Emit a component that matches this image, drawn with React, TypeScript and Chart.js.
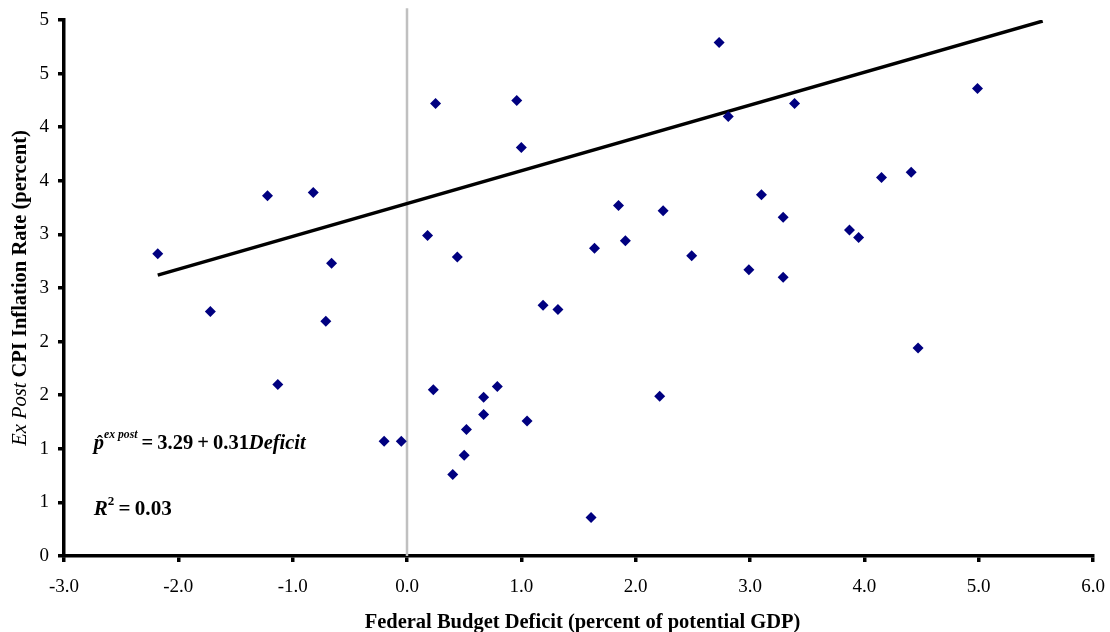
import React, { useEffect, useRef } from 'react';
import { Chart, registerables } from 'chart.js';

Chart.register(...registerables);

// Federal budget deficit (percent of potential GDP)
const deficit = [
  -2.18, -1.72, -1.22, -1.13, -0.82, -0.66, -0.71, -0.2, -0.05,
  0.18, 0.25, 0.23, 0.44, 0.4, 0.5, 0.52, 0.67, 0.67, 0.79, 0.96, 1.0, 1.05,
  1.19, 1.32, 1.61, 1.64, 1.85, 1.91, 2.21, 2.24, 2.49, 2.73, 2.81, 2.99,
  3.1, 3.29, 3.29, 3.39, 3.87, 3.95, 4.15, 4.41, 4.47, 4.99,
];
// Ex post CPI inflation rate (percent)
const inflation = [
  2.82, 2.28, 3.36, 1.6, 3.39, 2.73, 2.19, 1.07, 1.07,
  2.99, 4.22, 1.55, 2.79, 0.76, 0.94, 1.18, 1.48, 1.32, 1.58, 4.25, 3.81, 1.26,
  2.34, 2.3, 0.36, 2.87, 3.27, 2.94, 1.49, 3.22, 2.8, 4.79, 4.1, 2.67,
  3.37, 3.16, 2.6, 4.22, 3.04, 2.97, 3.53, 3.58, 1.94, 4.36,
];
// Fitted regression line end points
const fitX = [-2.18, 5.56];
const fitY = [2.62, 4.99];
// Zero-deficit reference line
const zeroX = [0, 0];
const zeroY = [0, 5.11];

const xTickLabels = ['-3.0', '-2.0', '-1.0', '0.0', '1.0', '2.0', '3.0', '4.0', '5.0', '6.0'];
const yTickLabels = ['0', '1', '1', '2', '2', '3', '3', '4', '4', '5', '5'];

const xTitle = 'Federal Budget Deficit (percent of potential GDP)';
const yTitleItalic = 'Ex Post';
const yTitleBold = ' CPI Inflation Rate (percent)';

const FAMILY = '"Liberation Serif", "Times New Roman", serif';

type Piece = { text: string; font: string; dy?: number; over?: boolean; dx?: number };

const eqPieces: Piece[] = [
  { text: 'p', font: `bold italic 21px ${FAMILY}` },
  { text: '\u02C6', font: `bold 19px ${FAMILY}`, over: true, dy: -1, dx: 1 },
  { text: 'ex post', font: `bold italic 12px ${FAMILY}`, dy: -11 },
  { text: '\u2009=\u20093.29\u2009+\u20090.31', font: `bold 21px ${FAMILY}` },
  { text: 'Deficit', font: `bold italic 21px ${FAMILY}` },
];
const r2Pieces: Piece[] = [
  { text: 'R', font: `bold italic 21px ${FAMILY}` },
  { text: '2', font: `bold 13px ${FAMILY}`, dy: -10 },
  { text: '\u2009=\u20090.03', font: `bold 21px ${FAMILY}` },
];

function drawRich(ctx: CanvasRenderingContext2D, pieces: Piece[], x: number, y: number, targetWidth: number) {
  const widths = pieces.map((p) => {
    ctx.font = p.font;
    return ctx.measureText(p.text).width;
  });
  let total = 0;
  pieces.forEach((p, i) => {
    if (!p.over) total += widths[i];
  });
  ctx.save();
  ctx.translate(x, y);
  ctx.scale(targetWidth / total, 1);
  ctx.fillStyle = '#000';
  ctx.textBaseline = 'alphabetic';
  ctx.textAlign = 'left';
  let cx = 0;
  let prevX = 0;
  let prevW = 0;
  pieces.forEach((p, i) => {
    ctx.font = p.font;
    if (p.over) {
      ctx.fillText(p.text, prevX + (prevW - widths[i]) / 2 + (p.dx || 0), p.dy || 0);
    } else {
      ctx.fillText(p.text, cx, p.dy || 0);
      prevX = cx;
      prevW = widths[i];
      cx += widths[i];
    }
  });
  ctx.restore();
}

const textPlugin = {
  id: 'textPlugin',
  afterDraw(chart: any) {
    const ctx: CanvasRenderingContext2D = chart.ctx;
    const area = chart.chartArea;
    const xs = chart.scales.x;
    const ys = chart.scales.y;
    ctx.save();
    ctx.fillStyle = '#000';
    // x-axis title
    ctx.font = `bold 20.5px ${FAMILY}`;
    ctx.textAlign = 'center';
    ctx.textBaseline = 'alphabetic';
    ctx.fillText(xTitle, (area.left + area.right) / 2 + 4, 628);

    // y-axis title (rotated, mixed italic / bold)
    ctx.save();
    ctx.translate(26, (area.top + area.bottom) / 2);
    ctx.rotate(-Math.PI / 2);
    ctx.textAlign = 'left';
    const fItalic = `italic 20.5px ${FAMILY}`;
    const fBold = `bold 20.5px ${FAMILY}`;
    ctx.font = fItalic;
    const w1 = ctx.measureText(yTitleItalic).width;
    ctx.font = fBold;
    const w2 = ctx.measureText(yTitleBold).width;
    let sx = -(w1 + w2) / 2;
    ctx.font = fItalic;
    ctx.fillText(yTitleItalic, sx, 0);
    sx += w1;
    ctx.font = fBold;
    ctx.fillText(yTitleBold, sx, 0);
    ctx.restore();

    // regression annotations
    drawRich(ctx, eqPieces, xs.getPixelForValue(-2.74), ys.getPixelForValue(1.0), 212);
    drawRich(ctx, r2Pieces, xs.getPixelForValue(-2.74), ys.getPixelForValue(0.38), 78);
    ctx.restore();
  },
};

export default function App() {
  const canvasRef = useRef<HTMLCanvasElement | null>(null);

  useEffect(() => {
    const canvas = canvasRef.current;
    if (!canvas) return;
    const points = deficit.map((x, i) => ({ x, y: inflation[i] }));
    const fit = fitX.map((x, i) => ({ x, y: fitY[i] }));
    const zero = zeroX.map((x, i) => ({ x, y: zeroY[i] }));

    const tickFont = { family: FAMILY, size: 19 };

    const chart = new Chart(canvas, {
      type: 'scatter',
      data: {
        datasets: [
          {
            data: points,
            pointStyle: 'rectRot',
            pointRadius: 5.5,
            backgroundColor: '#000080',
            borderColor: '#000080',
            borderWidth: 0,
          },
          {
            data: fit,
            showLine: true,
            borderColor: '#000000',
            borderWidth: 3.5,
            pointRadius: 0,
            fill: false,
          },
          {
            data: zero,
            showLine: true,
            borderColor: '#c0c0c0',
            borderWidth: 2.5,
            pointRadius: 0,
            fill: false,
            clip: false,
          } as any,
        ],
      },
      options: {
        responsive: false,
        animation: false,
        events: [],
        layout: { padding: { top: 20, right: 17, left: 0, bottom: 0 } },
        plugins: {
          legend: { display: false },
          tooltip: { enabled: false },
          title: { display: false },
        },
        scales: {
          x: {
            type: 'linear',
            position: 'bottom',
            min: -3,
            max: 6,
            afterFit: (s: any) => {
              s.height = 76;
              s.paddingLeft = 0;
              s.paddingRight = 0;
            },
            ticks: {
              stepSize: 1,
              autoSkip: false,
              maxRotation: 0,
              color: '#000',
              font: tickFont,
              padding: 14,
              callback: (_v: any, i: number) => xTickLabels[i],
            },
            grid: {
              drawOnChartArea: false,
              drawTicks: true,
              tickLength: 6,
              color: '#000',
              lineWidth: 3.5,
            },
            border: { display: true, color: '#000', width: 3.5 },
          },
          y: {
            type: 'linear',
            min: 0,
            max: 5,
            afterFit: (s: any) => {
              s.width = 64;
              s.paddingTop = 0;
              s.paddingBottom = 0;
            },
            ticks: {
              stepSize: 0.5,
              autoSkip: false,
              color: '#000',
              font: tickFont,
              padding: 9,
              callback: (_v: any, i: number) => yTickLabels[i],
            },
            grid: {
              drawOnChartArea: false,
              drawTicks: true,
              tickLength: 6,
              color: '#000',
              lineWidth: 3.5,
            },
            border: { display: true, color: '#000', width: 3.5 },
          },
        },
      } as any,
      plugins: [textPlugin],
    });

    return () => {
      chart.destroy();
    };
  }, []);

  return (
    <div style={{ position: 'fixed', left: 0, top: 0, width: 1110, height: 632, background: '#fff' }}>
      <canvas ref={canvasRef} width={1110} height={632} style={{ display: 'block' }} />
    </div>
  );
}
